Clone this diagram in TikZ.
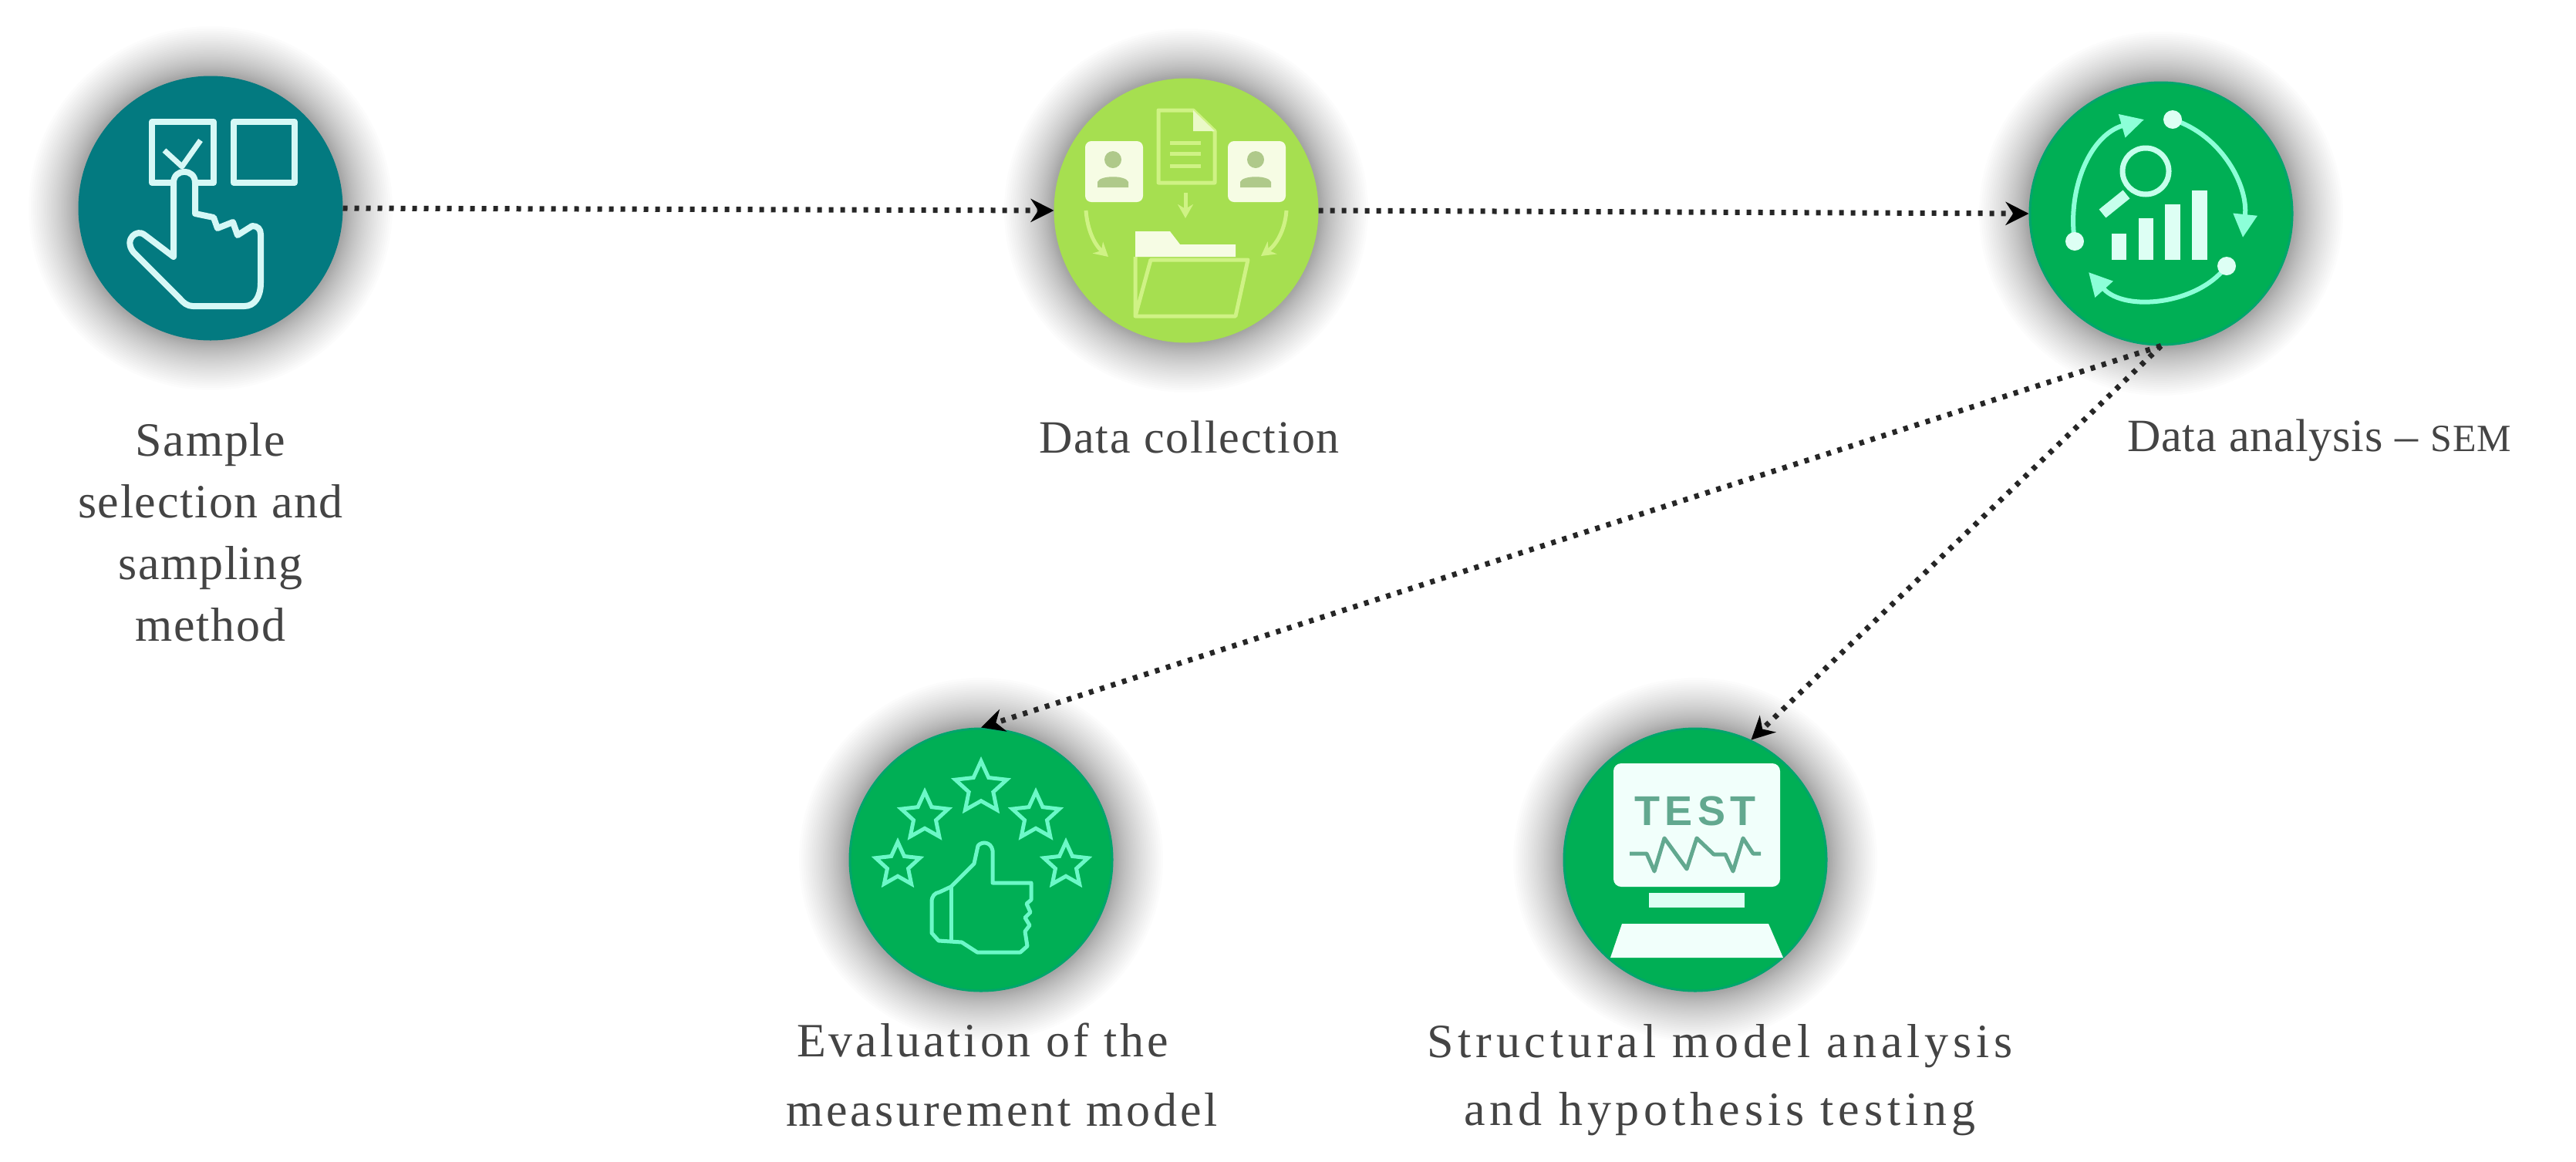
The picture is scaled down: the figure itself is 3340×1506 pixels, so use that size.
\documentclass[tikz,border=0pt]{standalone}
\usepackage{fontspec}
\setmainfont{Liberation Serif}
\newfontfamily\testfont{Liberation Sans}[LetterSpace=12]
\newfontfamily\lblA{Liberation Serif}[LetterSpace=2.7]
\newfontfamily\lblB{Liberation Serif}[LetterSpace=3.2]
\newfontfamily\lblC{Liberation Serif}[LetterSpace=1.5]
\newfontfamily\lblD{Liberation Serif}[LetterSpace=6.3]
\newfontfamily\lblE{Liberation Serif}[LetterSpace=9.5]
\usetikzlibrary{arrows.meta,shapes.geometric}
\definecolor{tealc}{HTML}{037A80}
\definecolor{tealline}{HTML}{D6F8F6}
\definecolor{limec}{HTML}{A6DF50}
\definecolor{limeline}{HTML}{CFF285}
\definecolor{limepale}{HTML}{F6FCE4}
\definecolor{limeglyph}{HTML}{AFC98A}
\definecolor{greenc}{HTML}{00AF55}
\definecolor{greenedge}{HTML}{00A56C}
\definecolor{mintline}{HTML}{8CFFD8}
\definecolor{starline}{HTML}{6CF8C8}
\definecolor{mintpale}{HTML}{DDFFF4}
\definecolor{testtext}{HTML}{62A88F}
\definecolor{labelc}{HTML}{444444}
\tikzset{
  x=0.5pt,y=-0.5pt,
  stagec/.style={circle,minimum size=170pt,inner sep=0pt,draw=#1,line width=1.5pt},
  glow/.style={fill=black,fill opacity=0.011,draw=none},
  flow/.style={line width=3.5pt,dash pattern=on 3pt off 4.5pt,black!85,-{Stealth[length=15pt,width=15pt,black]}},
  lbl/.style={text=labelc,align=center,inner sep=0pt},
  tealicon/.style={draw=tealline,line width=4pt,line join=round},
  limeicon/.style={draw=limeline,line width=2.5pt,line join=round},
  mintarc/.style={draw=mintline,line width=3pt},
  minticon/.style={draw=starline,line width=2.5pt,line join=round},
  starnode/.style={star,star points=5,star point ratio=2.1,draw=starline,line width=2.5pt,inner sep=0pt,minimum size=#1},
}
\begin{document}
\begin{tikzpicture}
\useasboundingbox[fill=white] (0,0) rectangle (3340,1506);
% glows
\foreach \cx/\cy in {273/270,1538/273,2802/277,1272/1115,2198/1115}{
  \foreach \i in {1,...,36}{
    \pgfmathsetmacro{\rr}{168+68*(\i/36)^1.5}
    \fill[glow] (\cx,\cy) circle[radius=\rr];
  }
}
% circles
\node[stagec=tealc,fill=tealc] (n1) at (273,270) {};
\node[stagec=limec,fill=limec] (n2) at (1538,273) {};
\node[stagec=greenc,fill=greenc,draw=greenedge] (n3) at (2802,277) {};
\node[stagec=greenc,fill=greenc,draw=greenedge] (n4) at (1272,1115) {};
\node[stagec=greenc,fill=greenc,draw=greenedge] (n5) at (2198,1115) {};
% connectors
\draw[flow] (n1.east) -- (n2.west);
\draw[flow] (n2.east) -- (n3.west);
\draw[flow] (n3.south) -- (n4.north);
\draw[flow] (n3.south) -- (n5.65);
% icon 1
\draw[tealicon] (197,158) rectangle (277,237);
\draw[tealicon] (303,158) rectangle (382,237);
\draw[tealicon,line width=3.5pt] (213,195) -- (236,216) -- (260,182);
\draw[tealicon,fill=tealc] (225,333) -- (225,237) .. controls (225,218) and (253,218) .. (253,237)
  -- (253,277) -- (277,282) -- (282,296) -- (302,288) -- (308,305) -- (327,293)
  .. controls (334,293) and (338,297) .. (338,304) -- (338,367)
  .. controls (338,385) and (330,397) .. (317,397) -- (250,397)
  .. controls (243,397) and (238,393) .. (233,387) -- (173,327)
  .. controls (166,318) and (168,310) .. (172,306) .. controls (176,302) and (182,300) .. (188,305) -- cycle;
% icon 2
\fill[limepale,rounded corners=4pt] (1407,183) rectangle (1482,262);
\fill[limepale,rounded corners=4pt] (1592,183) rectangle (1667,262);
\fill[limeglyph] (1443,207) circle[radius=11];
\fill[limeglyph] (1423,243) -- (1423,236) .. controls (1426,227) and (1460,227) .. (1463,236) -- (1463,243) -- cycle;
\fill[limeglyph] (1628,207) circle[radius=11];
\fill[limeglyph] (1608,243) -- (1608,236) .. controls (1611,227) and (1645,227) .. (1648,236) -- (1648,243) -- cycle;
\draw[limeicon] (1502,143) -- (1547,143) -- (1575,170) -- (1575,237) -- (1502,237) -- cycle;
\fill[limepale!70!limeline] (1547,143) -- (1575,170) -- (1547,170) -- cycle;
\foreach \ly in {185,199,215}{\draw[limeicon] (1517,\ly) -- (1557,\ly);}
\draw[limeicon,-{Stealth[length=9pt,width=10pt,limeline]}] (1537,250) -- (1537,283);
\draw[limeicon,-{Stealth[length=9pt,width=10pt,limeline]}] (1408,273) .. controls (1410,300) and (1420,318) .. (1437,333);
\draw[limeicon,-{Stealth[length=9pt,width=10pt,limeline]}] (1668,273) .. controls (1666,300) and (1654,318) .. (1635,332);
\fill[limepale] (1472,333) -- (1472,300) -- (1517,300) -- (1530,317) -- (1602,317) -- (1602,333) -- cycle;
\draw[limeicon] (1472,333) -- (1472,410) -- (1602,410) -- (1618,337) -- (1492,337) -- (1472,410);
% icon 3
\draw[draw=mintpale!70!mintline,line width=3.5pt] (2782,222) circle[radius=30];
\draw[mintpale!70!mintline,line width=7pt] (2757,252) -- (2726,277);
\fill[mintpale] (2738,303) rectangle (2757,337);
\fill[mintpale] (2773,283) rectangle (2792,337);
\fill[mintpale] (2807,265) rectangle (2827,337);
\fill[mintpale] (2842,247) rectangle (2862,337);
\draw[mintarc,-{Triangle[length=15pt,width=15pt,mintline]}] (2690,313) .. controls (2680,245) and (2710,175) .. (2780,155);
\fill[mintpale] (2690,313) circle[radius=12];
\draw[mintarc,-{Triangle[length=15pt,width=15pt,mintline]}] (2817,155) .. controls (2880,175) and (2915,240) .. (2908,308);
\fill[mintpale] (2817,155) circle[radius=12];
\draw[mintarc,-{Triangle[length=15pt,width=15pt,mintline]}] (2887,345) .. controls (2850,395) and (2755,405) .. (2708,353);
\fill[mintpale] (2887,345) circle[radius=12];
% icon 4
\node[starnode=35pt] (s1) at (1272,1022) {};
\node[starnode=32pt] (s2) at (1199,1059) {};
\node[starnode=32pt] (s3) at (1343,1059) {};
\node[starnode=30pt] (s4) at (1164,1122) {};
\node[starnode=30pt] (s5) at (1382,1122) {};
\draw[minticon] (1208,1170) .. controls (1208,1162) and (1212,1158) .. (1218,1157) -- (1233,1150) -- (1263,1120) -- (1268,1097)
  .. controls (1272,1091) and (1285,1091) .. (1287,1103) -- (1287,1145) -- (1337,1145) -- (1337,1167) -- (1331,1172) -- (1336,1183) -- (1329,1190) -- (1335,1200) -- (1329,1208) -- (1332,1227)
  -- (1323,1235) -- (1267,1235) -- (1247,1222) -- (1217,1220) -- (1208,1210) -- cycle;
\draw[minticon] (1233,1150) -- (1233,1220);
% icon 5
\fill[mintpale!40!white,rounded corners=5pt] (2092,990) rectangle (2308,1150);
\fill[mintpale] (2138,1158) rectangle (2262,1177);
\fill[mintpale!40!white] (2103,1198) -- (2293,1198) -- (2312,1242) -- (2088,1242) -- cycle;
\node[font=\testfont\bfseries\fontsize{27}{27}\selectfont,text=testtext,inner sep=0pt] (t1) at (2198,1052) {TEST};
\draw[testtext,line width=2.5pt,line join=round] (2113,1107) -- (2135,1107) -- (2145,1130) -- (2158,1087) -- (2187,1127) -- (2200,1087) -- (2222,1108) -- (2237,1108) -- (2247,1130) -- (2260,1087) -- (2273,1107) -- (2283,1107);
% labels
\node[lbl,font=\lblA\fontsize{31}{40}\selectfont] (l1) at (273,690) {Sample\\selection and\\sampling\\method};
\node[lbl,font=\lblB\fontsize{30}{40}\selectfont] (l2) at (1542,567) {Data collection};
\node[lbl,font=\lblC\fontsize{30}{40}\selectfont] (l3) at (3007,571) {Data analysis – {\fontsize{25}{40}\selectfont SEM}};
\node[lbl,font=\lblD\fontsize{31}{45}\selectfont] (l4) at (1299,1394) {Evaluation of the\hspace*{25pt}\\measurement model};
\node[lbl,font=\lblE\fontsize{31}{44}\selectfont] (l5) at (2230,1401) {Structural model analysis\\and hypothesis testing};
\end{tikzpicture}
\end{document}
